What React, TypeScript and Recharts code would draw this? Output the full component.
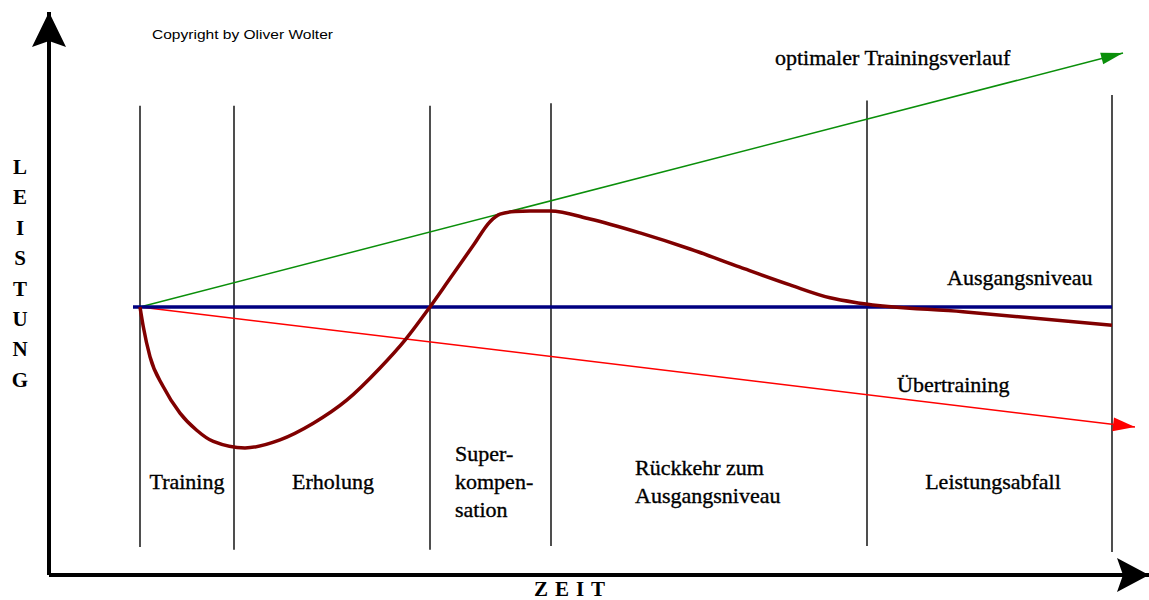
import { LineChart, Line, XAxis, YAxis, ReferenceLine, ReferenceDot } from 'recharts';

// time axis: phase boundaries (vertical lines) and their extent on the Leistung axis
const phaseBounds = [9.1, 18.5, 38.1, 50.2, 81.8, 106.3];
const phaseTops = [87.5, 87.5, 87.5, 88, 88.5, 89.5];
const phaseBottoms = [5.2, 4.7, 4.7, 5.4, 5.4, 4.3];
const phaseNames = [
  ['Training'],
  ['Erholung'],
  ['Super-', 'kompen-', 'sation'],
  ['Rückkehr zum', 'Ausgangsniveau'],
  ['Leistungsabfall'],
];

// Leistungskurve (dark red)
const curveT = [
  9.1, 9.43, 10.1, 11.43, 13.1, 14.77, 16.43, 19.6, 23.1, 26.43, 29.77, 33.1, 35.6,
  38.1, 40.1, 42.4, 44.1, 45.1, 46.6, 48.1, 50.1, 54.1, 59.1, 64.1, 69.1, 74.1, 78.1, 81.1,
  91.4, 106.3,
];
const curveV = [
  50, 46.3, 40.7, 35.1, 30.2, 27.0, 24.9, 23.7, 25.2, 28.3, 32.6, 38.6, 43.8,
  50.0, 55.3, 61.4, 65.9, 67.3, 67.8, 67.9, 67.9, 66.4, 63.8, 60.8, 57.4, 54.1, 51.7, 50.7,
  49.1, 46.6,
];

// Ausgangsniveau (blue), optimaler Trainingsverlauf (green), Übertraining (red)
const baseT = [8.4, 106.3];
const baseV = [50, 50];
const optimalT = [9.1, 107.4];
const optimalV = [50, 97.35];
const overT = [9.1, 108.6];
const overV = [50, 27.6];

const zip = (t: number[], v: number[]) => t.map((x, i) => ({ t: x, v: v[i] }));

const serif = "'Liberation Serif', 'DejaVu Serif', serif";

function arrowDot(len: number, half: number, color: string) {
  return (p: any) => {
    const pts = p.points;
    if (!pts || p.index !== pts.length - 1) return <g key={`d${p.index}`} />;
    const prev = pts[p.index - 1];
    const a = Math.atan2(p.cy - prev.y, p.cx - prev.x);
    const bx = p.cx - len * Math.cos(a);
    const by = p.cy - len * Math.sin(a);
    const nx = -Math.sin(a) * half;
    const ny = Math.cos(a) * half;
    return (
      <polygon
        key={`d${p.index}`}
        points={`${p.cx},${p.cy} ${bx + nx},${by + ny} ${bx - nx},${by - ny}`}
        fill={color}
      />
    );
  };
}

function textShape(lines: string[], anchor: string, size = 22, lineH = 28) {
  return (p: any) => {
    const first = -((lines.length - 1) / 2) * lineH + size * 0.33;
    return (
      <text
        x={p.cx}
        y={p.cy}
        textAnchor={anchor}
        fontFamily={serif}
        fontSize={size}
        fill="#000"
        stroke="#000"
        strokeWidth={0.35}
      >
        {lines.map((l, i) => (
          <tspan key={i} x={p.cx} dy={i === 0 ? first : lineH}>
            {l}
          </tspan>
        ))}
      </text>
    );
  };
}

export default function App() {
  // label anchors: centred in the phase, or left aligned for the multi-line ones
  const phaseLabelX = [13.8, 28.4, 40.6, 58.6, 94.4];
  const phaseAnchor = ['middle', 'middle', 'start', 'start', 'middle'];

  return (
    <div style={{ position: 'absolute', left: 0, top: 0, background: '#fff' }}>
      <LineChart width={1149} height={600} margin={{ top: 12, right: 0, bottom: 0, left: 0 }}>
        <XAxis
          type="number"
          dataKey="t"
          domain={[0, 110]}
          tick={false}
          tickLine={false}
          height={25}
          axisLine={{ stroke: '#000', strokeWidth: 4 }}
          label={{
            content: (lp: any) => {
              const vb = lp.viewBox;
              return (
                <text
                  x={vb.x + 524}
                  y={vb.y + 21}
                  textAnchor="middle"
                  fontFamily={serif}
                  fontWeight="bold"
                  fontSize={21}
                  letterSpacing={7}
                >
                  ZEIT
                </text>
              );
            },
          }}
        />
        <YAxis
          type="number"
          dataKey="v"
          domain={[0, 105]}
          tick={false}
          tickLine={false}
          width={49}
          axisLine={{ stroke: '#000', strokeWidth: 4 }}
          label={{
            content: (lp: any) => {
              const vb = lp.viewBox;
              return (
                <text fontFamily={serif} fontWeight="bold" fontSize={21} textAnchor="middle">
                  {'LEISTUNG'.split('').map((c, i) => (
                    <tspan key={i} x={vb.x + 20} y={vb.y + 162 + i * 30.4}>
                      {c}
                    </tspan>
                  ))}
                </text>
              );
            },
          }}
        />

        {phaseBounds.map((x, i) => (
          <ReferenceLine
            key={`pb${i}`}
            segment={[
              { x, y: phaseBottoms[i] },
              { x, y: phaseTops[i] },
            ]}
            stroke="#222"
            strokeWidth={1.6}
          />
        ))}

        <Line
          data={zip(optimalT, optimalV)}
          dataKey="v"
          type="linear"
          stroke="#0a8f0a"
          strokeWidth={1.5}
          dot={arrowDot(22, 6, '#0a8f0a')}
          activeDot={false}
          isAnimationActive={false}
        />
        <Line
          data={zip(overT, overV)}
          dataKey="v"
          type="linear"
          stroke="#ff0000"
          strokeWidth={1.5}
          dot={arrowDot(22, 7, '#ff0000')}
          activeDot={false}
          isAnimationActive={false}
        />
        <Line
          data={zip(baseT, baseV)}
          dataKey="v"
          type="linear"
          stroke="#000080"
          strokeWidth={3.5}
          dot={false}
          activeDot={false}
          isAnimationActive={false}
        />
        <Line
          data={zip(curveT, curveV)}
          dataKey="v"
          type="monotone"
          stroke="#800000"
          strokeWidth={3.5}
          dot={false}
          activeDot={false}
          isAnimationActive={false}
        />

        {/* axis arrow heads */}
        <ReferenceDot
          x={0}
          y={105}
          ifOverflow="visible"
          shape={(p: any) => (
            <polygon
              points={`${p.cx},${p.cy} ${p.cx + 17},${p.cy + 35} ${p.cx},${p.cy + 29} ${p.cx - 17},${p.cy + 35}`}
              fill="#000"
            />
          )}
        />
        <ReferenceDot
          x={110}
          y={0}
          ifOverflow="visible"
          shape={(p: any) => (
            <polygon
              points={`${p.cx},${p.cy} ${p.cx - 32},${p.cy - 17} ${p.cx - 26},${p.cy} ${p.cx - 32},${p.cy + 17}`}
              fill="#000"
            />
          )}
        />

        {phaseNames.map((lines, i) => (
          <ReferenceDot
            key={`pn${i}`}
            x={phaseLabelX[i]}
            y={17.3}
            ifOverflow="visible"
            shape={textShape(lines, phaseAnchor[i])}
          />
        ))}
        <ReferenceDot x={72.6} y={96.4} ifOverflow="visible" shape={textShape(['optimaler Trainingsverlauf'], 'start')} />
        <ReferenceDot x={89.8} y={55.4} ifOverflow="visible" shape={textShape(['Ausgangsniveau'], 'start')} />
        <ReferenceDot x={84.8} y={35.4} ifOverflow="visible" shape={textShape(['Übertraining'], 'start')} />
        <ReferenceDot
          x={10.3}
          y={100.7}
          ifOverflow="visible"
          shape={(p: any) => (
            <text
              x={p.cx}
              y={p.cy + 4}
              fontFamily="'Liberation Sans', Arial, sans-serif"
              fontSize={13}
              textLength={181}
              lengthAdjust="spacingAndGlyphs"
            >
              Copyright by Oliver Wolter
            </text>
          )}
        />
      </LineChart>
    </div>
  );
}
